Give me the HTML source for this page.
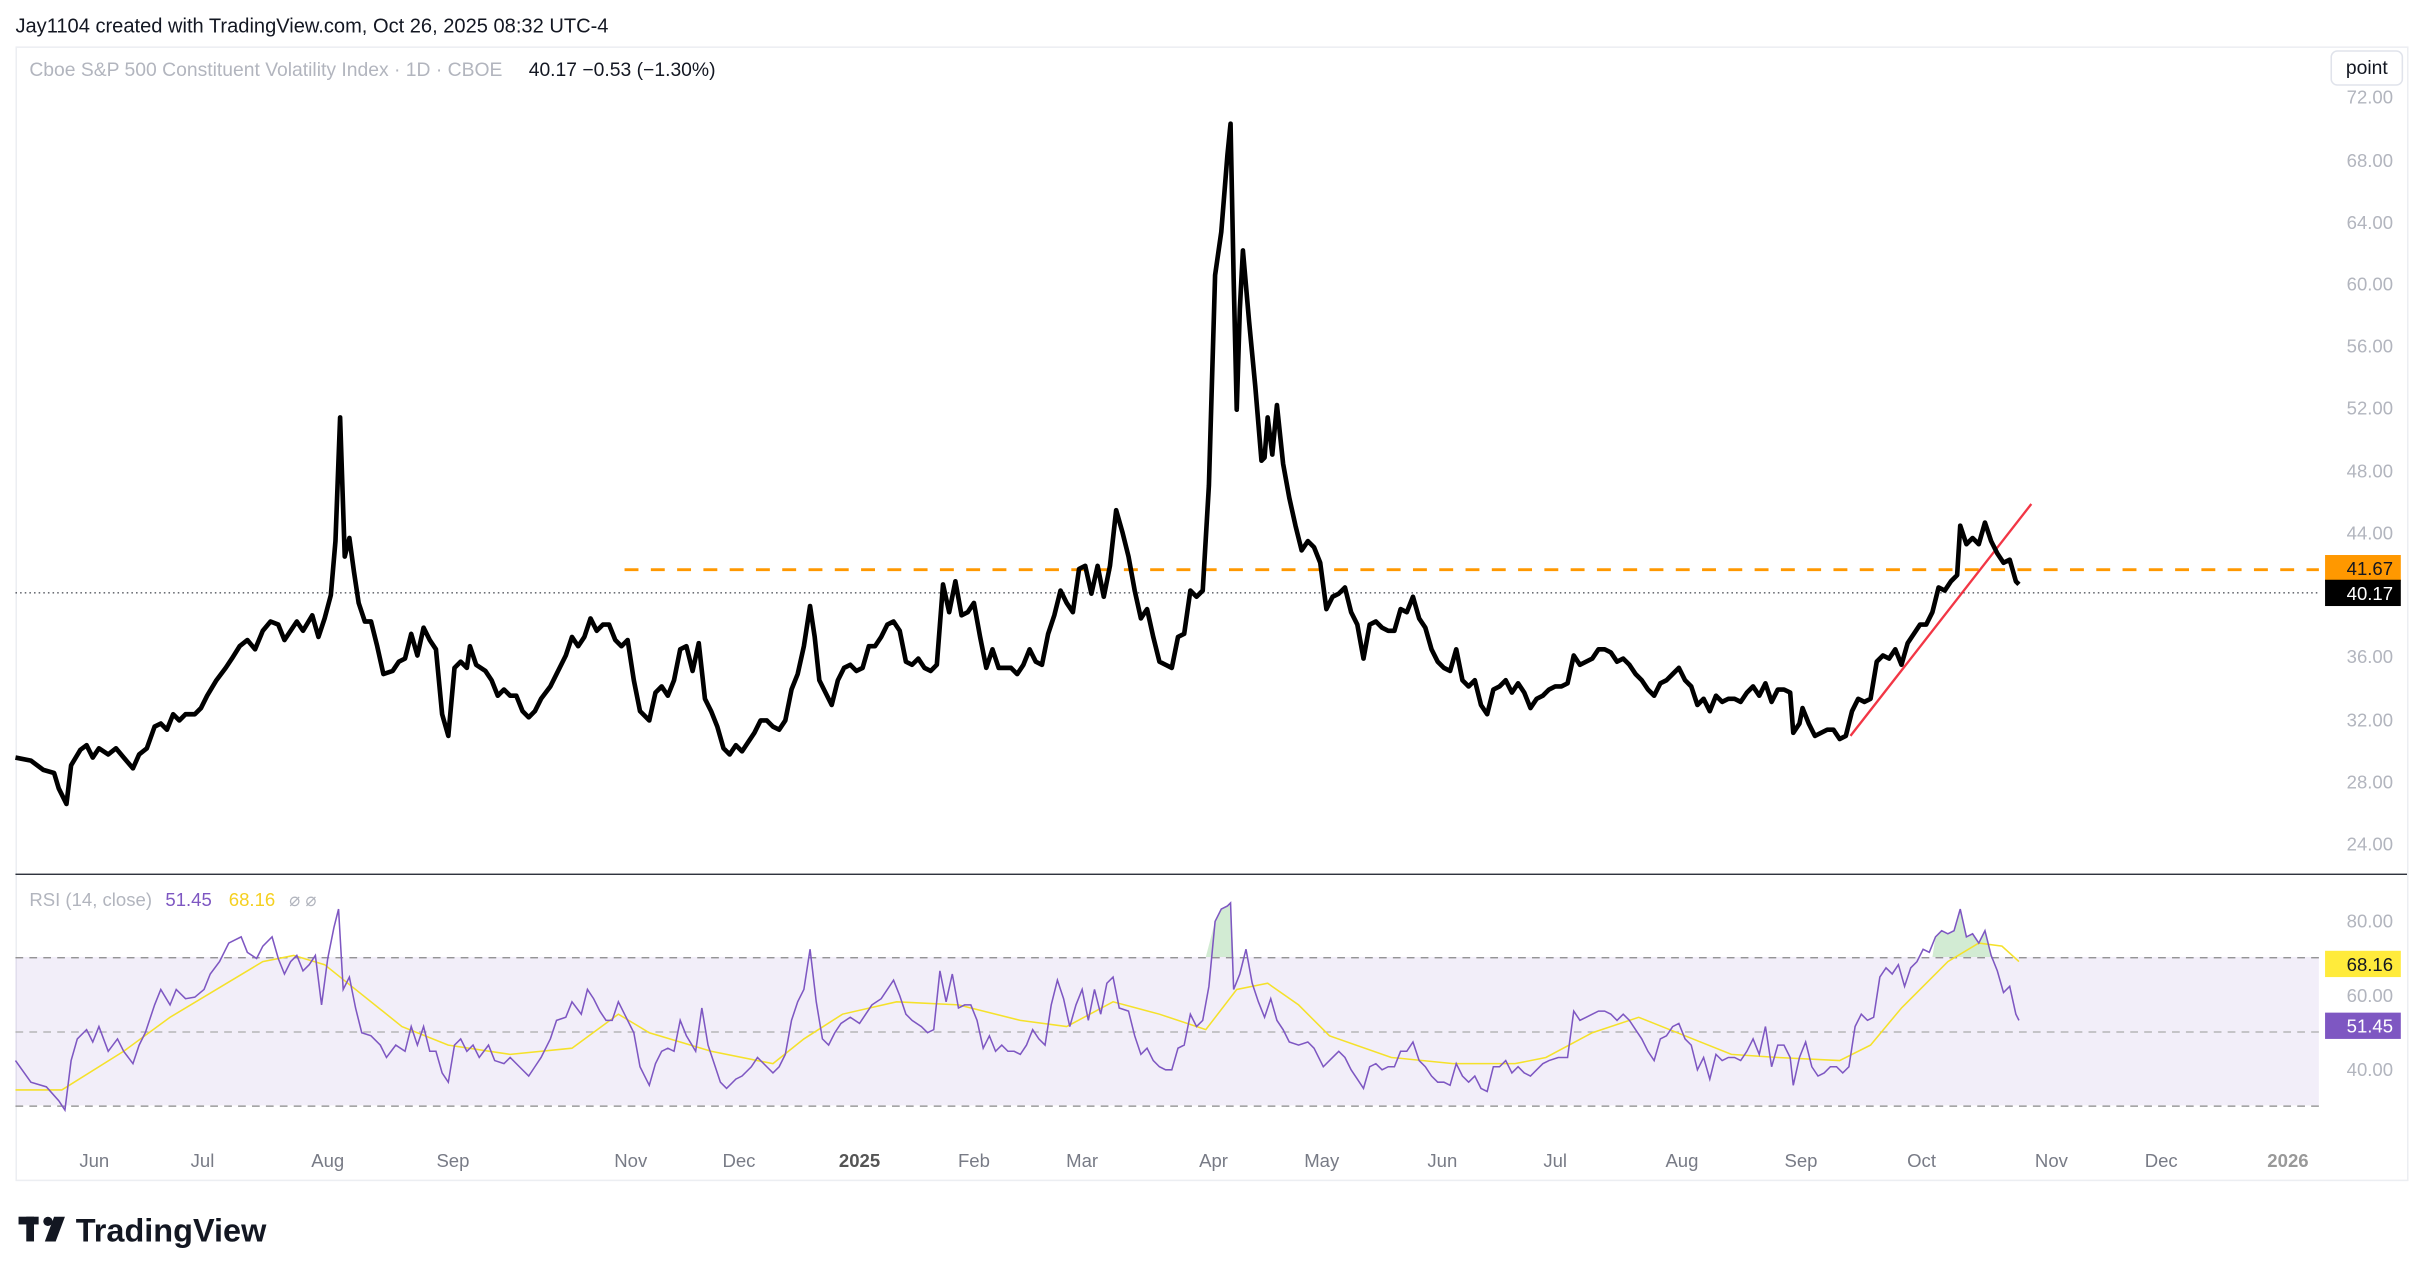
<!DOCTYPE html>
<html><head><meta charset="utf-8"><style>
html,body{margin:0;padding:0;background:#fff;}
svg{display:block}
text{font-family:"Liberation Sans",sans-serif}
</style></head><body>
<svg width="2424" height="1277" viewBox="0 0 1568 826" preserveAspectRatio="none" xmlns="http://www.w3.org/2000/svg">
<rect x="0" y="0" width="1568" height="826" fill="#fff"/>
<text x="10" y="21" font-size="13" fill="#131722">Jay1104 created with TradingView.com, Oct 26, 2025 08:32 UTC-4</text>
<rect x="10.5" y="30.5" width="1547" height="733" fill="#fff" stroke="#eceef2"/>
<text x="19" y="49" font-size="12.5" fill="#b2b5be">Cboe S&amp;P 500 Constituent Volatility Index · 1D · CBOE</text>
<text x="342" y="49" font-size="12.5" fill="#131722">40.17  −0.53 (−1.30%)</text>
<rect x="1508" y="33" width="46" height="22" rx="4" fill="#fff" stroke="#e0e3eb"/>
<text x="1531" y="48" font-size="12.5" fill="#131722" text-anchor="middle">point</text>
<g font-size="12" fill="#b2b5be" text-anchor="end">
<text x="1548" y="67">72.00</text><text x="1548" y="108">68.00</text><text x="1548" y="148">64.00</text><text x="1548" y="188">60.00</text><text x="1548" y="228">56.00</text><text x="1548" y="268">52.00</text><text x="1548" y="309">48.00</text><text x="1548" y="349">44.00</text><text x="1548" y="429">36.00</text><text x="1548" y="470">32.00</text><text x="1548" y="510">28.00</text><text x="1548" y="550">24.00</text>
<text x="1548" y="600">80.00</text><text x="1548" y="648">60.00</text><text x="1548" y="696">40.00</text>
</g>
<line x1="10" y1="565.5" x2="1557" y2="565.5" stroke="#131722" stroke-width="0.8"/>
<line x1="10" y1="383.5" x2="1500" y2="383.5" stroke="#131722" stroke-width="0.6" stroke-dasharray="1,2"/>
<line x1="404" y1="368.5" x2="1500" y2="368.5" stroke="#ff9800" stroke-width="1.8" stroke-dasharray="9,8"/>
<line x1="1197" y1="476" x2="1314" y2="326" stroke="#f23645" stroke-width="1.5"/>
<polyline fill="none" stroke="#000" stroke-width="3" stroke-linejoin="round" points="10,490 20,492 28,498 35,500 38,510 43,520 46,495 52,485 56,482 60,490 64,484 70,488 75,484 80,490 86,497 90,488 95,484 100,470 104,468 108,472 112,462 116,466 120,462 126,462 130,458 134,450 140,440 146,432 150,426 155,418 160,414 165,420 170,408 175,402 180,404 184,414 188,408 192,402 196,408 202,398 206,412 210,400 214,385 217,350 220,270 223,360 226,348 229,370 232,390 236,402 240,402 244,418 248,436 254,434 258,428 262,426 266,410 270,424 274,406 278,414 282,420 286,462 290,476 294,432 298,428 302,432 304,418 308,430 314,434 318,440 322,450 326,446 330,450 334,450 338,460 342,464 346,460 350,452 356,444 360,436 366,424 370,412 374,418 378,412 382,400 386,408 390,404 394,404 398,414 402,418 406,414 410,440 414,460 420,466 424,448 428,444 432,450 436,440 440,420 444,418 448,434 452,416 456,452 460,460 464,470 468,484 472,488 476,482 480,486 484,480 488,474 492,466 496,466 500,470 504,472 508,466 512,446 516,436 520,418 524,392 527,412 530,440 534,448 538,456 542,440 546,432 550,430 554,434 558,432 562,418 566,418 570,412 574,404 578,402 582,408 586,428 590,430 594,426 598,432 602,434 606,430 610,378 614,396 618,376 622,398 626,396 630,390 634,412 638,432 642,420 646,432 650,432 654,432 658,436 662,430 666,420 670,428 674,430 678,410 682,398 686,382 690,390 694,396 698,368 702,366 706,384 710,366 714,386 718,366 722,330 726,344 730,360 734,382 738,400 742,394 746,412 750,428 754,430 758,432 762,412 766,410 770,382 774,386 778,382 782,314 786,178 790,150 794,100 796,80 798,180 800,265 802,200 804,162 808,208 812,250 816,298 818,296 820,270 823,294 826,262 830,300 834,322 838,340 842,356 846,350 850,354 854,364 858,394 862,386 866,384 870,380 874,396 878,404 882,426 886,404 890,402 894,406 898,408 902,408 906,394 910,396 914,386 918,400 922,406 926,420 930,428 934,432 938,434 942,420 946,440 950,444 954,440 958,456 962,462 966,446 970,444 974,440 978,448 982,442 986,448 990,458 994,452 998,450 1002,446 1006,444 1010,444 1014,442 1018,424 1022,430 1026,428 1030,426 1034,420 1038,420 1042,422 1046,428 1050,426 1054,430 1058,436 1062,440 1066,446 1070,450 1074,442 1078,440 1082,436 1086,432 1090,440 1094,444 1098,456 1102,452 1106,460 1110,450 1114,454 1118,452 1122,452 1126,454 1130,448 1134,444 1138,450 1142,442 1146,454 1150,446 1154,446 1158,448 1160,474 1164,468 1166,458 1170,468 1174,476 1178,474 1182,472 1186,472 1190,478 1194,476 1198,460 1202,452 1206,454 1210,452 1214,428 1218,424 1222,426 1226,420 1230,430 1234,416 1238,410 1242,404 1246,404 1250,396 1254,380 1258,382 1262,376 1266,372 1268,340 1272,352 1276,348 1280,352 1284,338 1288,350 1292,358 1296,364 1300,362 1304,376 1306,378"/>
<rect x="1504" y="359" width="49" height="17" fill="#ff9800"/>
<text x="1548" y="372" font-size="12" fill="#131722" text-anchor="end">41.67</text>
<rect x="1504" y="375" width="49" height="17" fill="#000"/>
<text x="1548" y="388" font-size="12" fill="#fff" text-anchor="end">40.17</text>
<!-- RSI pane -->
<text x="19" y="586" font-size="12" fill="#b2b5be">RSI (14, close)</text>
<text x="107" y="586" font-size="12" fill="#7e57c2">51.45</text>
<text x="148" y="586" font-size="12" fill="#f5d020">68.16</text>
<text x="187" y="586" font-size="12" fill="#b2b5be">⌀  ⌀</text>
<rect x="10" y="619" width="1490" height="96" fill="#7e57c2" fill-opacity="0.1"/>
<g stroke="#888" stroke-width="0.8" stroke-dasharray="5,4">
<line x1="10" y1="619.5" x2="1500" y2="619.5"/><line x1="10" y1="715.5" x2="1500" y2="715.5"/>
</g>
<line x1="10" y1="667.5" x2="1500" y2="667.5" stroke="#aaa" stroke-width="0.8" stroke-dasharray="5,4"/>
<defs><clipPath id="ob"><rect x="0" y="570" width="1568" height="49"/></clipPath></defs>
<g clip-path="url(#ob)"><polygon fill="#4caf50" fill-opacity="0.25" points="780,619 786,596 790,588 794,586 796,584 798,619 1250,619 1252,606 1256,602 1260,604 1264,602 1268,588 1272,606 1276,604 1280,610 1284,602 1288,619"/></g>
<polyline fill="none" stroke="#f5e12a" stroke-width="1" points="10,705 40,705 80,680 110,658 140,640 170,622 190,618 210,624 230,640 260,664 290,676 330,682 370,678 400,656 420,668 460,680 500,688 520,672 545,656 580,648 620,650 660,660 690,664 720,648 750,656 780,666 800,640 820,636 840,650 860,670 900,684 940,688 980,688 1000,684 1030,668 1060,658 1090,670 1120,682 1150,684 1190,686 1210,676 1230,652 1260,622 1280,610 1295,612 1306,622"/>
<polyline fill="none" stroke="#7e57c2" stroke-width="1" points="10,686 20,700 30,703 38,712 42,718 46,686 50,672 56,666 60,674 64,664 70,680 76,672 80,680 86,688 90,676 94,668 100,650 104,640 110,650 114,640 120,646 126,645 132,640 136,630 142,622 148,610 152,608 156,606 160,616 166,620 170,612 176,606 180,620 184,630 188,622 192,618 196,628 200,624 204,618 208,650 212,620 216,600 219,588 222,640 226,632 230,652 234,668 240,670 246,676 250,684 256,676 262,680 266,664 270,676 274,664 278,680 282,680 286,694 290,700 294,676 298,672 302,680 306,676 310,684 316,676 320,686 326,688 330,684 336,690 342,696 346,690 350,684 356,672 360,660 366,658 370,648 376,656 380,640 384,646 388,654 392,660 396,660 400,648 404,656 410,668 414,690 420,702 424,688 428,680 432,678 436,680 440,660 444,670 450,680 454,652 458,676 462,688 466,700 470,704 476,698 480,696 486,690 490,684 496,690 500,694 504,690 508,682 512,660 516,648 520,640 524,614 528,648 532,672 536,676 540,668 544,662 550,658 556,662 560,656 564,650 570,646 574,640 578,634 582,644 586,656 590,660 596,664 600,668 604,666 608,628 612,648 616,630 620,652 624,650 628,650 632,660 636,678 640,670 644,680 648,676 652,680 656,680 660,682 664,676 668,666 672,672 676,676 680,650 684,634 688,646 692,664 696,650 700,640 704,660 708,640 712,656 716,636 720,632 724,652 730,654 734,670 738,682 742,678 746,686 750,690 754,692 758,692 762,678 766,676 770,656 774,664 778,660 782,638 786,596 790,588 794,586 796,584 798,640 802,630 806,614 810,636 814,648 818,658 822,646 826,660 830,666 834,674 840,676 846,674 850,678 856,690 862,684 866,680 870,684 874,692 878,698 882,704 886,690 890,688 894,692 898,690 902,690 906,680 910,680 914,674 918,686 922,690 926,696 930,700 934,700 938,702 942,688 946,696 950,700 954,696 958,704 962,706 966,690 970,690 974,686 978,694 982,690 986,694 990,696 994,692 998,688 1002,686 1008,684 1014,684 1018,654 1022,660 1026,658 1030,656 1034,654 1038,654 1042,656 1046,660 1050,656 1054,660 1058,666 1062,672 1066,680 1070,686 1074,672 1078,670 1082,664 1086,662 1090,672 1094,676 1098,692 1102,684 1106,698 1110,682 1114,686 1118,684 1122,684 1126,686 1130,680 1134,672 1138,682 1142,664 1146,690 1150,676 1154,676 1158,684 1160,702 1164,684 1168,674 1172,690 1176,696 1180,694 1184,690 1188,690 1192,694 1196,690 1200,664 1204,656 1208,660 1212,658 1216,632 1220,626 1224,630 1228,624 1232,638 1236,626 1240,622 1244,614 1248,616 1252,606 1256,602 1260,604 1264,602 1268,588 1272,606 1276,604 1280,610 1284,602 1288,618 1292,628 1296,642 1300,638 1304,656 1306,660"/>
<rect x="1504" y="615" width="49" height="17" fill="#ffeb3b"/>
<text x="1548" y="628" font-size="12" fill="#131722" text-anchor="end">68.16</text>
<rect x="1504" y="655" width="49" height="17" fill="#7e57c2"/>
<text x="1548" y="668" font-size="12" fill="#fff" text-anchor="end">51.45</text>
<!-- time axis -->
<g font-size="12" fill="#787b86" text-anchor="middle">
<text x="61" y="755">Jun</text><text x="131" y="755">Jul</text><text x="212" y="755">Aug</text><text x="293" y="755">Sep</text><text x="408" y="755">Nov</text><text x="478" y="755">Dec</text><text x="556" y="755" font-weight="bold" fill="#555">2025</text><text x="630" y="755">Feb</text><text x="700" y="755">Mar</text><text x="785" y="755">Apr</text><text x="855" y="755">May</text><text x="933" y="755">Jun</text><text x="1006" y="755">Jul</text><text x="1088" y="755">Aug</text><text x="1165" y="755">Sep</text><text x="1243" y="755">Oct</text><text x="1327" y="755">Nov</text><text x="1398" y="755">Dec</text><text x="1480" y="755" font-weight="bold" fill="#999">2026</text>
</g>
<!-- logo -->
<g fill="#131722">
<rect x="12" y="787" width="13" height="5"/><rect x="17" y="787" width="5" height="16"/>
<circle cx="31" cy="790" r="3"/><polygon points="35,787 42,787 36,803 29,803"/>
</g>
<text x="49" y="803" font-size="21" font-weight="bold" fill="#131722">TradingView</text>
</svg>
</body></html>
